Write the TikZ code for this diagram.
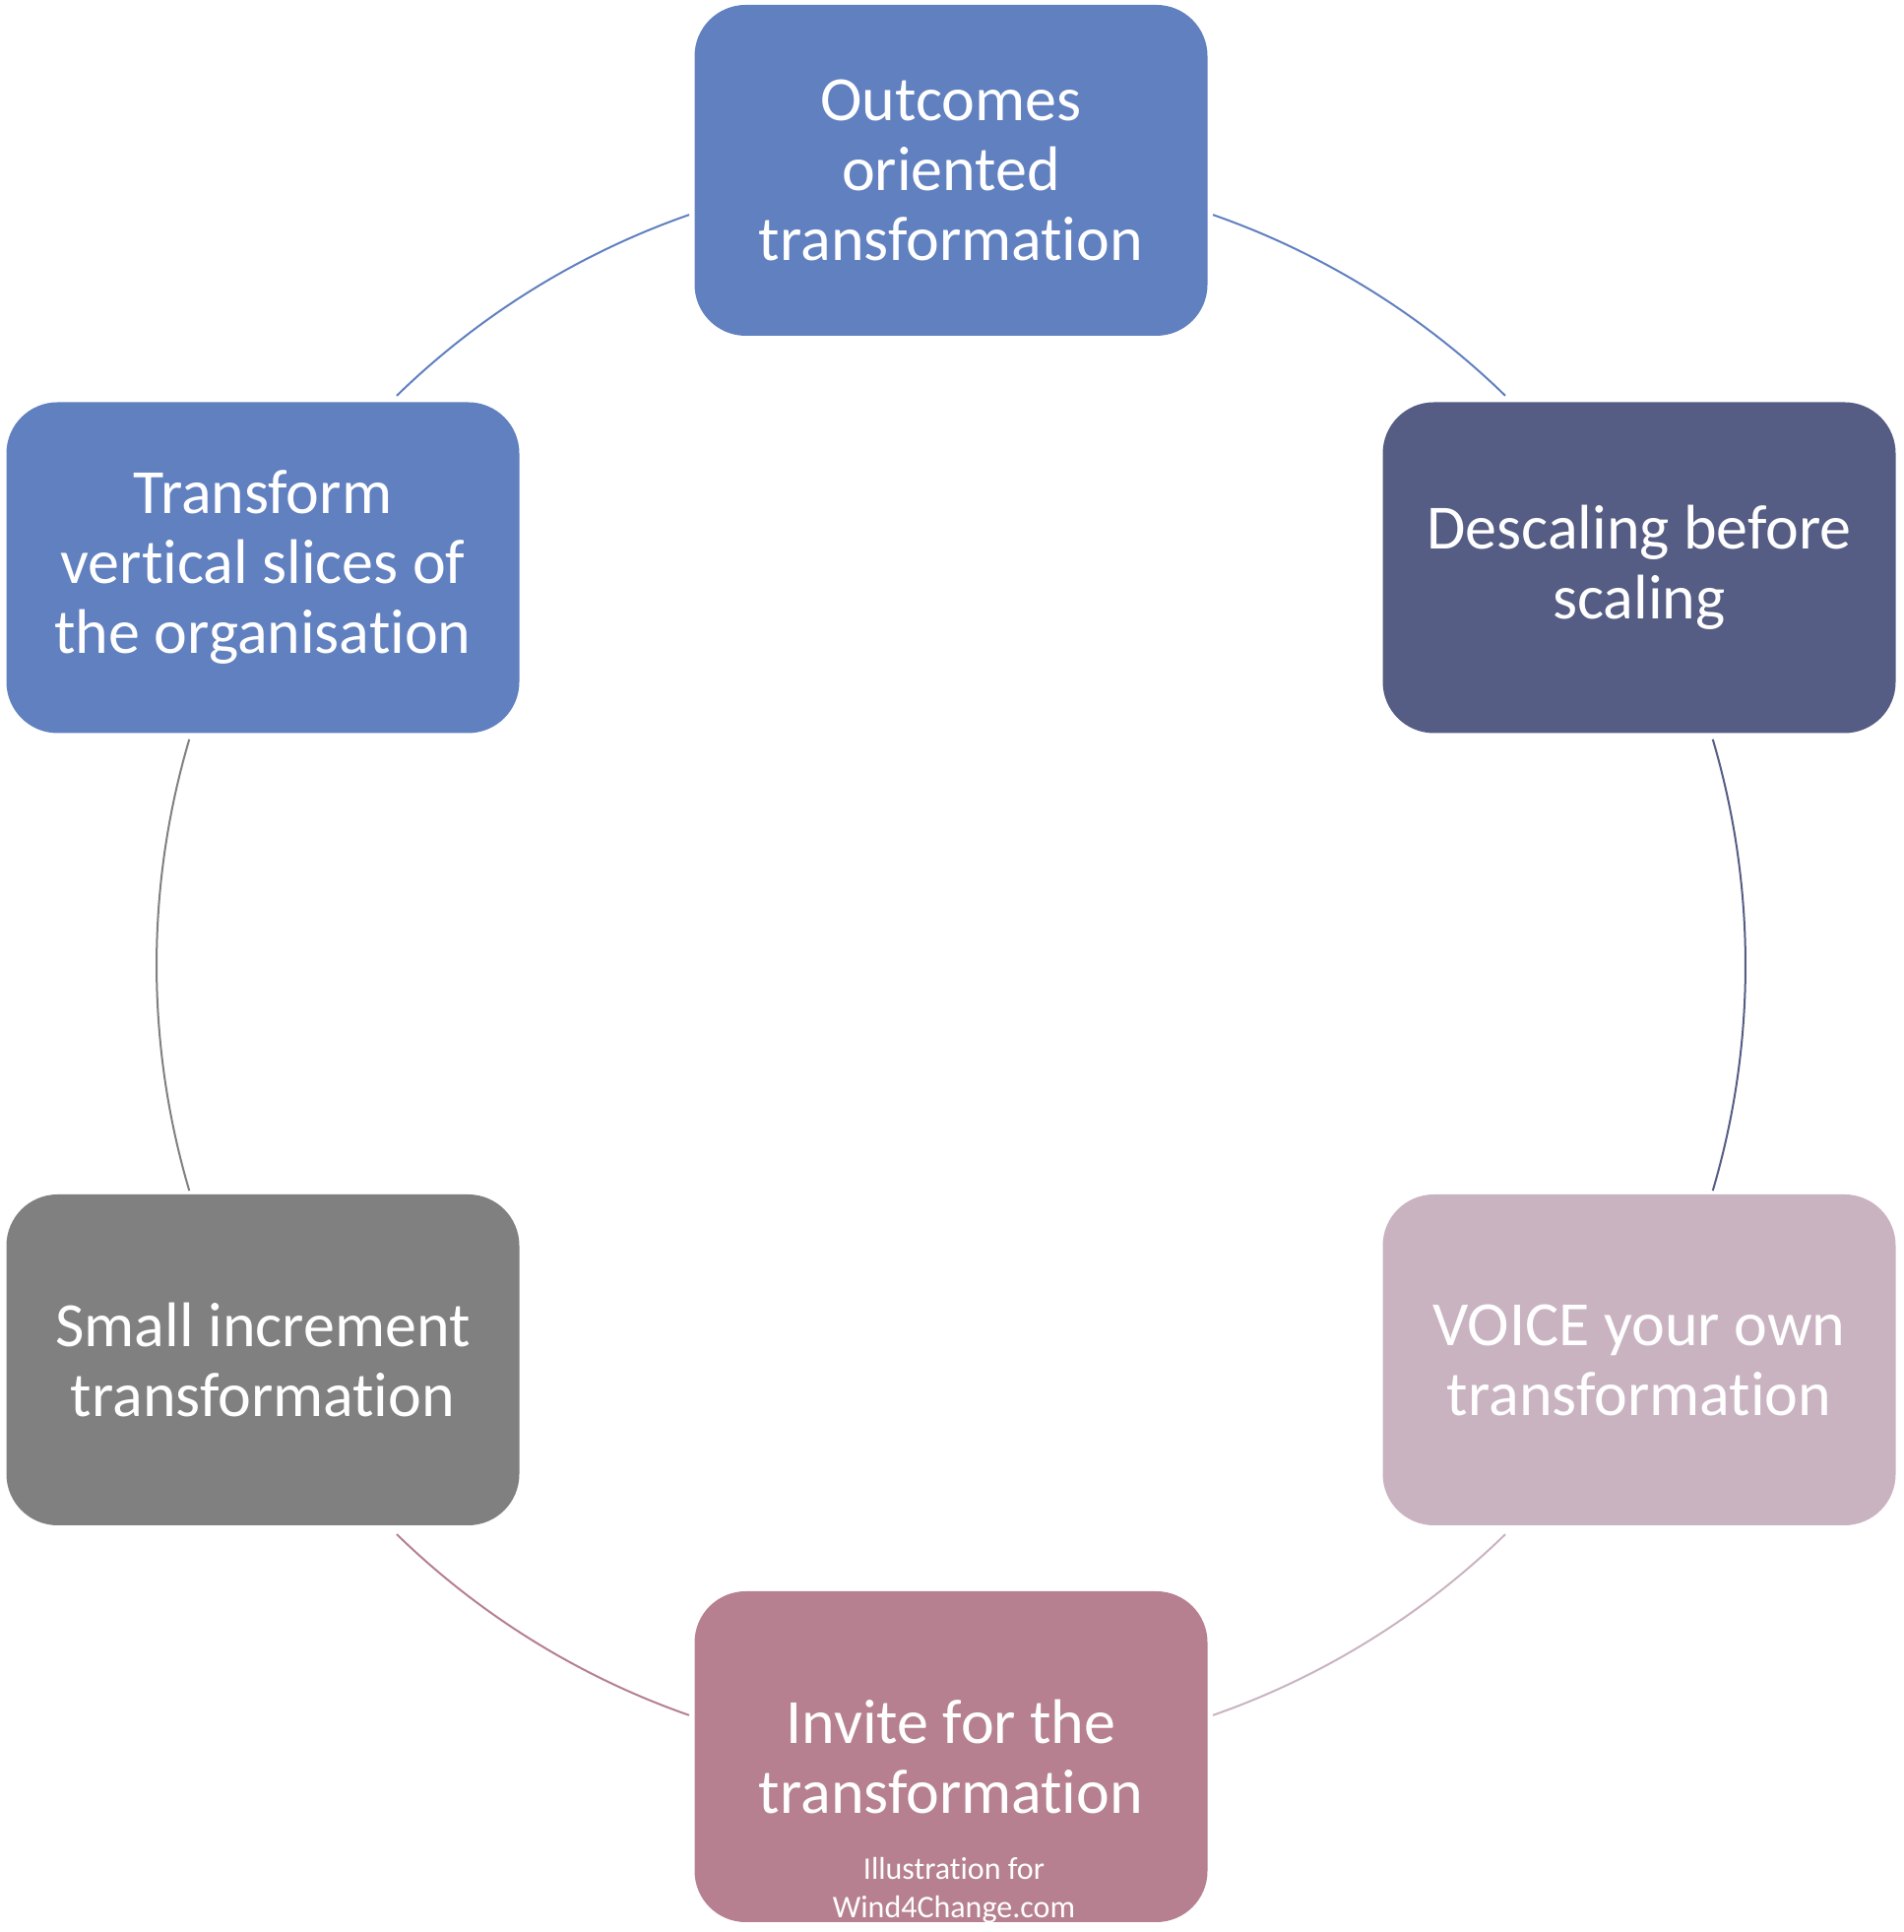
\documentclass[tikz,border=0pt]{standalone}
\usepackage{fontspec}
\setmainfont{Carlito}[Ligatures={NoCommon}]
\definecolor{cTop}{RGB}{97,128,192}
\definecolor{cTR}{RGB}{86,93,133}
\definecolor{cBR}{RGB}{202,179,193}
\definecolor{cBot}{RGB}{182,128,145}
\definecolor{cBL}{RGB}{128,128,128}
\definecolor{cTL}{RGB}{97,128,192}
\begin{document}
\begin{tikzpicture}[x=0.5pt,y=0.5pt,
  box/.style={rectangle, rounded corners=26pt, minimum width=260.5pt, minimum height=168pt,
    text=white, align=center, font=\fontsize{32}{35.5}\selectfont, inner sep=0pt},
  link/.style={line width=1pt}]
\useasboundingbox (0,0) rectangle (1933,1962);
\coordinate (c) at (966,982);
\node[box, fill=cTop] (top) at (966,1789) {Outcomes\\oriented\\transformation};
\node[box, fill=cTR] (tr) at (1665,1385.5) {Descaling before\\scaling};
\node[box, fill=cBR] (br) at (1665,581) {VOICE your own\\transformation};
\node[box, fill=cBot] (bot) at (966,178) {Invite for the\\transformation};
\node[box, fill=cBL] (bl) at (267,581) {Small increment\\transformation};
\node[box, fill=cTL] (tl) at (267,1385.5) {Transform\\vertical slices of\\the organisation};
\node[text=white, align=center, font=\fontsize{16}{19.5}\selectfont, inner sep=0pt] (credit) at (969,42) {Illustration for\\Wind4Change.com};
% arcs
\coordinate (a1) at ([shift={(70.75:807)}]c);
\coordinate (a2) at ([shift={(16.5:807)}]c);
\coordinate (a3) at ([shift={(-45.76:807)}]c);
\coordinate (a4) at ([shift={(-109.25:807)}]c);
\coordinate (a5) at ([shift={(196.5:807)}]c);
\coordinate (a6) at ([shift={(134.24:807)}]c);
\draw[link, draw=cTop] (a1) arc[start angle=70.75, end angle=45.76, radius=807];
\draw[link, draw=cTR] (a2) arc[start angle=16.5, end angle=-16.5, radius=807];
\draw[link, draw=cBR] (a3) arc[start angle=-45.76, end angle=-70.75, radius=807];
\draw[link, draw=cBot] (a4) arc[start angle=-109.25, end angle=-134.24, radius=807];
\draw[link, draw=cBL] (a5) arc[start angle=196.5, end angle=163.5, radius=807];
\draw[link, draw=cTL] (a6) arc[start angle=134.24, end angle=109.25, radius=807];
\end{tikzpicture}
\end{document}
